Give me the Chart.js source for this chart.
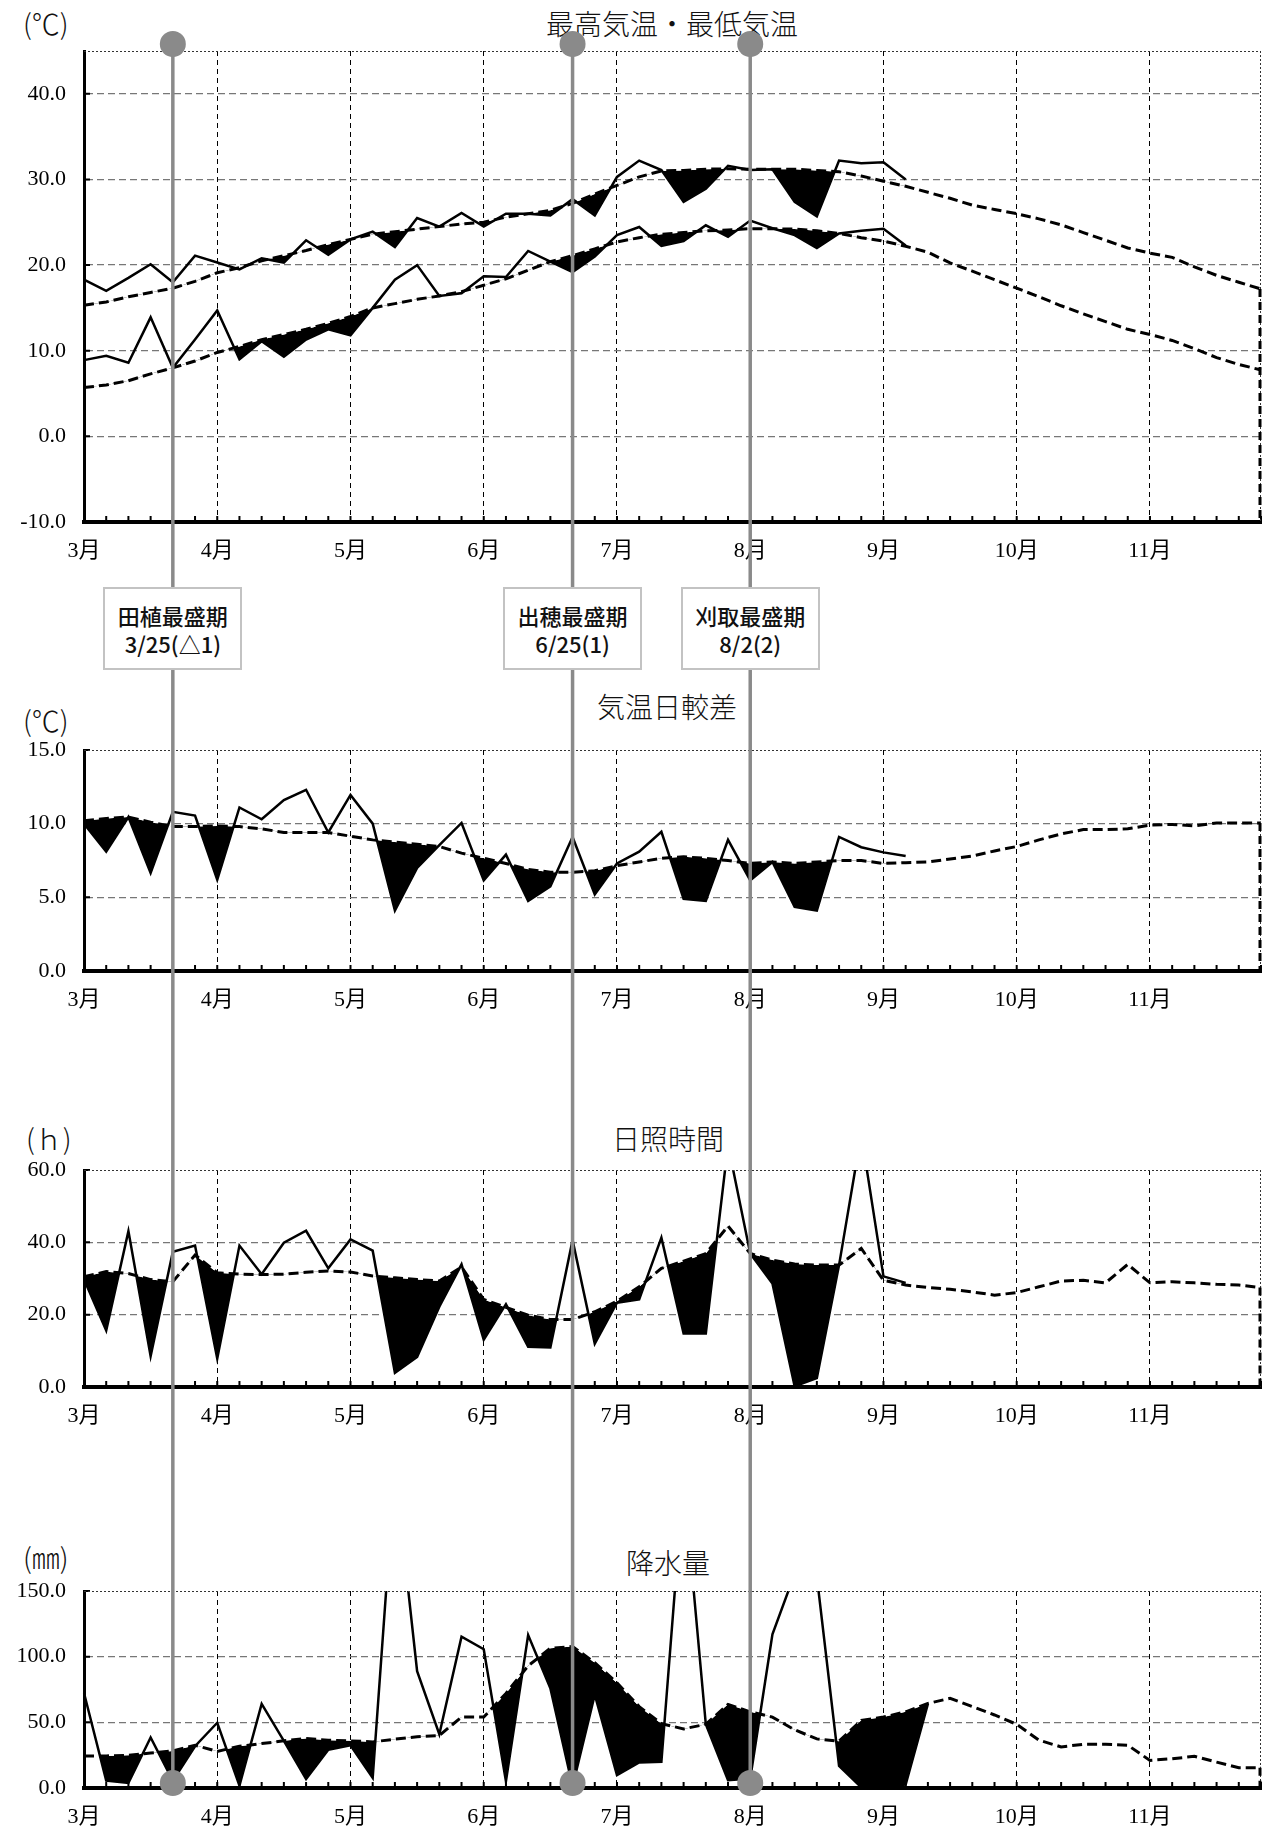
<!DOCTYPE html>
<html lang="ja">
<head>
<meta charset="utf-8">
<title>最高気温・最低気温 / 気温日較差 / 日照時間 / 降水量</title>
<script src="https://cdn.jsdelivr.net/npm/chart.js@4.4.1/dist/chart.umd.min.js"></script>
<style>
  html, body { margin: 0; padding: 0; background: #fff; }
  #page { position: relative; width: 1277px; height: 1832px; overflow: hidden; }
  #page canvas { position: absolute; left: 0; z-index: 1; }
  .txt {
    position: absolute; z-index: 0; white-space: nowrap; color: #111;
    font-family: 'Noto Sans CJK JP', sans-serif; font-weight: 300;
    font-size: 28px; line-height: 30px;
  }
  .title { transform: translateX(-50%); }
  .stage {
    position: absolute; z-index: 2; box-sizing: border-box;
    width: 139px; height: 83px; padding-top: 12px;
    border: 2px solid #c3c3c3; background: #fff; text-align: center;
    font-family: 'Noto Sans CJK JP', sans-serif; font-weight: 500;
    font-size: 22px; line-height: 28px; color: #111;
  }
</style>
</head>
<body>
<div id="page"></div>
<script>
// 半旬 (5-day periods): 3月1半旬 .. 11月6半旬
const months = ['3月', '4月', '5月', '6月', '7月', '8月', '9月', '10月', '11月'];
const periodsPerMonth = 6;

// 最高気温 / 最低気温 (℃): this year (to 9月2半旬) and normal year
const maxTempActual = [18.3, 17.0, 18.5, 20.1, 18.0, 21.1, 20.3, 19.5, 20.8, 20.3,
  22.9, 21.2, 23.0, 23.9, 22.1, 25.5, 24.5, 26.1, 24.5, 26.0,
  26.0, 25.8, 27.7, 25.8, 30.3, 32.2, 31.1, 27.4, 28.9, 31.6,
  31.1, 31.2, 27.4, 25.7, 32.2, 31.9, 32.0, 30.0];
const maxTempNormal = [15.3, 15.7, 16.3, 16.8, 17.3, 18.1, 19.1, 19.7, 20.5, 21.1,
  21.7, 22.4, 23.0, 23.6, 23.9, 24.2, 24.5, 24.8, 25.0, 25.6,
  26.0, 26.4, 27.2, 28.3, 29.3, 30.3, 31.0, 31.05, 31.2, 31.25,
  31.2, 31.2, 31.2, 31.05, 30.9, 30.4, 29.8, 29.2, 28.5, 27.8,
  27.0, 26.5, 26.0, 25.4, 24.7, 23.8, 22.9, 22.0, 21.4, 20.9,
  19.8, 18.8, 18.0, 17.2];
const minTempActual = [8.9, 9.4, 8.6, 13.9, 8.0, 11.3, 14.7, 9.0, 11.1, 9.3,
  11.3, 12.5, 11.8, 15.0, 18.3, 20.0, 16.4, 16.7, 18.7, 18.6,
  21.65, 20.4, 19.2, 21.0, 23.5, 24.45, 22.25, 22.8, 24.65, 23.3,
  25.2, 24.3, 23.5, 22.0, 23.7, 24.0, 24.25, 22.3];
const minTempNormal = [5.7, 6.0, 6.5, 7.3, 8.0, 8.8, 9.8, 10.5, 11.3, 11.9,
  12.5, 13.2, 14.0, 15.0, 15.5, 16.0, 16.4, 16.9, 17.65, 18.4,
  19.4, 20.4, 21.1, 21.9, 22.7, 23.2, 23.6, 23.8, 24.0, 24.1,
  24.25, 24.25, 24.2, 24.0, 23.7, 23.2, 22.8, 22.2, 21.5, 20.25,
  19.3, 18.3, 17.3, 16.3, 15.25, 14.3, 13.4, 12.5, 11.9, 11.2,
  10.25, 9.2, 8.4, 7.75];

// 気温日較差 (℃)
const rangeActual = [10.0, 8.1, 10.45, 6.65, 10.8, 10.55, 6.2, 11.1, 10.3, 11.6,
  12.3, 9.4, 11.95, 10.0, 4.1, 7.0, 8.55, 10.05, 6.15, 7.9,
  4.75, 5.75, 9.1, 5.2, 7.3, 8.1, 9.45, 4.9, 4.75, 8.9,
  6.15, 7.4, 4.35, 4.1, 9.1, 8.4, 8.05, 7.8];
const rangeNormal = [10.2, 10.35, 10.45, 10.1, 9.8, 9.8, 9.85, 9.8, 9.65, 9.4,
  9.4, 9.4, 9.15, 8.9, 8.75, 8.6, 8.45, 8.0, 7.65, 7.3,
  6.9, 6.7, 6.7, 6.8, 7.15, 7.4, 7.65, 7.75, 7.65, 7.5,
  7.3, 7.4, 7.3, 7.4, 7.5, 7.5, 7.3, 7.35, 7.4, 7.6,
  7.8, 8.15, 8.45, 8.9, 9.3, 9.6, 9.6, 9.65, 9.9, 9.95,
  9.85, 10.05, 10.05, 10.05];

// 日照時間 (h)
const sunActual = [29.8, 15.6, 43.1, 8.5, 37.4, 39.1, 7.9, 39.1, 31.2, 39.9,
  43.2, 32.8, 40.8, 37.7, 3.9, 8.3, 22.2, 33.9, 13.1, 22.9,
  11.1, 10.9, 40.6, 12.0, 23.3, 24.2, 41.3, 14.8, 14.8, 67,
  36.9, 28.6, 0.2, 2.5, 33.7, 70, 30.6, 28.8];
const sunNormal = [30.5, 31.9, 31.4, 29.7, 29.1, 36.5, 31.6, 31.2, 31.1, 31.2,
  31.7, 32.1, 31.8, 30.7, 30.2, 29.7, 29.3, 33.2, 24.2, 22.0,
  19.85, 18.65, 18.65, 20.8, 23.7, 27.7, 32.8, 34.8, 36.9, 44.5,
  36.9, 35.1, 34.0, 33.7, 33.7, 38.3, 29.5, 28.2, 27.5, 27.0,
  26.3, 25.4, 26.1, 27.7, 29.3, 29.5, 28.8, 33.9, 28.8, 29.1,
  28.8, 28.4, 28.2, 27.5];

// 降水量 (mm)
const rainActual = [72.3, 5.6, 3.8, 38.5, 5.6, 31.8, 49.7, 1.8, 64.1, 35.9,
  6.9, 29.2, 32.6, 7.7, 243, 89, 41, 115.2, 105.7, 5.2,
  116.5, 76, 1.3, 71, 9.8, 19.5, 20, 235, 48.5, 5.9,
  7.2, 117, 163, 161, 16.8, 0.5, 1.3, 2.6, 64];
const rainNormal = [24.4, 24.4, 24.9, 26.7, 28.2, 32.6, 27.9, 31.8, 33.8, 35.9,
  37.7, 36.4, 35.9, 35.1, 37.2, 39.0, 40, 54, 54, 72,
  93, 106.4, 107.7, 95.4, 80, 62, 49, 45, 48.5, 63.7,
  58, 54, 44.3, 37.4, 35.6, 51.5, 54, 58, 64.4, 68.3,
  62, 55.6, 48.5, 36.4, 31.3, 33.3, 33.3, 32.6, 21, 22.3,
  24.1, 19.7, 15.4, 15.4];

// growth stages: name, date text, 半旬 index
const stageNames = ['田植最盛期', '出穂最盛期', '刈取最盛期'];
const stageDates = ['3/25(△1)', '6/25(1)', '8/2(2)'];
const stagePeriod = [4, 22, 30];

const periodLabels = months.flatMap((m) =>
  Array.from({ length: periodsPerMonth }, (_, k) => `${m}${k + 1}半旬`));

const STAGE_GRAY = '#8a8a8a';
const TICK_FONT = { family: "'Liberation Serif', 'Noto Sans CJK JP', serif", size: 22 };

// layout of the four stacked panels (page pixels)
const panels = [
  {
    top: 0, height: 680, padTop: 51, padBottom: 114, min: -10, max: 45, step: 10,
    unit: '(℃)', unitAt: [23, 23], title: '最高気温・最低気温', titleAt: [672, 23],
    series: [[maxTempActual, maxTempNormal], [minTempActual, minTempNormal]],
    markerTop: true,
  },
  {
    top: 680, height: 360, padTop: 70, padBottom: 25, min: 0, max: 15, step: 5,
    unit: '(℃)', unitAt: [23, 720], title: '気温日較差', titleAt: [667, 706],
    series: [[rangeActual, rangeNormal]],
  },
  {
    top: 1040, height: 420, padTop: 130, padBottom: 29, min: 0, max: 60, step: 20,
    unit: '(ｈ)', unitAt: [26, 1138], title: '日照時間', titleAt: [668, 1138],
    series: [[sunActual, sunNormal]],
  },
  {
    top: 1460, height: 372, padTop: 131, padBottom: 0, min: 0, max: 150, step: 50,
    unit: '(㎜)', unitAt: [23, 1557], title: '降水量', titleAt: [668, 1562],
    series: [[rainActual, rainNormal]],
    markerBottom: true,
  },
];

/**
 * Solid line for this year, dashed for the normal year; the gap is filled
 * black where this year falls below normal.
 */
function buildDatasets(series) {
  const datasets = [];
  series.forEach(([actual, normal]) => {
    const normalIndex = datasets.length + 1;
    datasets.push({
      data: actual,
      borderColor: '#000',
      borderWidth: 2.5,
      pointRadius: 0,
      tension: 0,
      fill: { target: normalIndex, above: 'rgba(0,0,0,0)', below: '#000' },
    });
    datasets.push({
      data: normal,
      borderColor: '#000',
      borderWidth: 3,
      borderDash: [10, 5],
      pointRadius: 0,
      tension: 0,
      fill: false,
    });
  });
  return datasets;
}

/**
 * Frame details, per-半旬 ticks and the gray growth-stage markers.
 */
function makeDecor(panel) {
  return {
    id: 'decor',
    afterDraw(chart) {
      const { ctx, chartArea: area } = chart;
      const x = chart.scales.x;
      const y = chart.scales.y;
      ctx.save();

      // short ticks on both axes, pointing into the plot
      ctx.strokeStyle = '#000';
      ctx.lineWidth = 2;
      ctx.beginPath();
      for (let i = 0; i < periodLabels.length; i++) {
        const px = x.getPixelForValue(i);
        ctx.moveTo(px, area.bottom);
        ctx.lineTo(px, area.bottom - 6);
      }
      y.ticks.forEach((t) => {
        if (t.value % panel.step !== 0) return;
        const py = y.getPixelForValue(t.value);
        ctx.moveTo(area.left, py);
        ctx.lineTo(area.left + 6, py);
      });
      ctx.stroke();

      // dotted top and right frame
      ctx.lineWidth = 1;
      ctx.setLineDash([2, 2]);
      ctx.strokeStyle = '#333';
      ctx.beginPath();
      ctx.moveTo(area.left, area.top + 0.5);
      ctx.lineTo(area.right, area.top + 0.5);
      ctx.moveTo(area.right - 0.5, area.top);
      ctx.lineTo(area.right - 0.5, area.bottom);
      ctx.stroke();

      // the normal-year line drops to the axis at the right edge
      const lastY = Math.min(...panel.series.map(([, normal]) =>
        y.getPixelForValue(normal[normal.length - 1])));
      ctx.setLineDash([8, 5]);
      ctx.lineWidth = 3;
      ctx.strokeStyle = '#000';
      ctx.beginPath();
      ctx.moveTo(area.right - 1, lastY);
      ctx.lineTo(area.right - 1, area.bottom);
      ctx.stroke();

      // growth-stage lines run through every panel
      ctx.setLineDash([]);
      ctx.strokeStyle = STAGE_GRAY;
      ctx.fillStyle = STAGE_GRAY;
      ctx.lineWidth = 3.5;
      const yTop = panel.markerTop ? area.top - 7 : 0;
      const yBottom = panel.markerBottom ? area.bottom - 5 : chart.height;
      stagePeriod.forEach((p) => {
        const px = x.getPixelForValue(p);
        ctx.beginPath();
        ctx.moveTo(px, yTop);
        ctx.lineTo(px, yBottom);
        ctx.stroke();
        if (panel.markerTop) {
          ctx.beginPath();
          ctx.arc(px, yTop, 13, 0, Math.PI * 2);
          ctx.fill();
        }
        if (panel.markerBottom) {
          ctx.beginPath();
          ctx.arc(px, yBottom, 13, 0, Math.PI * 2);
          ctx.fill();
        }
      });
      ctx.restore();
    },
  };
}

function addText(page, text, cls, left, centerY) {
  const el = document.createElement('div');
  el.className = cls;
  el.textContent = text;
  el.style.left = `${left}px`;
  el.style.top = `${centerY - 15}px`;
  page.appendChild(el);
}

const page = document.getElementById('page');
const charts = panels.map((panel) => {
  addText(page, panel.unit, 'txt', panel.unitAt[0], panel.unitAt[1]);
  addText(page, panel.title, 'txt title', panel.titleAt[0], panel.titleAt[1]);

  const canvas = document.createElement('canvas');
  canvas.width = 1277;
  canvas.height = panel.height;
  canvas.style.top = `${panel.top}px`;
  page.appendChild(canvas);

  return new Chart(canvas.getContext('2d'), {
    type: 'line',
    data: { labels: periodLabels, datasets: buildDatasets(panel.series) },
    options: {
      responsive: false,
      animation: false,
      events: [],
      layout: { padding: { top: panel.padTop, bottom: panel.padBottom, left: 0, right: 3 } },
      plugins: { legend: { display: false }, tooltip: { enabled: false } },
      scales: {
        x: {
          ticks: {
            autoSkip: false,
            maxRotation: 0,
            minRotation: 0,
            padding: 16,
            color: '#000',
            font: TICK_FONT,
            callback: (value, index) =>
              (index % periodsPerMonth === 0 ? months[index / periodsPerMonth] : ''),
          },
          grid: {
            drawTicks: false,
            lineWidth: 1,
            color: (c) => (c.index > 0 && c.index % periodsPerMonth === 0
              && c.index < periodLabels.length - 1 ? '#000' : 'rgba(0,0,0,0)'),
          },
          border: { color: '#000', width: 4, dash: [5, 4] },
          afterFit: (scale) => { scale.height = 44; },
        },
        y: {
          min: panel.min,
          max: panel.max,
          ticks: {
            stepSize: panel.step,
            padding: 18,
            color: '#000',
            font: TICK_FONT,
            callback: (v) => (v % panel.step === 0 ? v.toFixed(1) : ''),
          },
          grid: {
            drawTicks: false,
            lineWidth: 1.3,
            color: (c) => (c.tick && (c.tick.value === panel.min || c.tick.value === panel.max)
              ? 'rgba(0,0,0,0)' : '#777'),
          },
          border: { color: '#000', width: 3, dash: [7, 4] },
          afterFit: (scale) => { scale.width = 84; },
        },
      },
    },
    plugins: [makeDecor(panel)],
  });
});

// stage boxes sit on the stage lines, between the first two panels
const xTop = charts[0].scales.x;
stageNames.forEach((name, i) => {
  const box = document.createElement('div');
  box.className = 'stage';
  box.style.left = `${xTop.getPixelForValue(stagePeriod[i]) - 69.5}px`;
  box.style.top = '587px';
  box.innerHTML = `${name}<br>${stageDates[i]}`;
  page.appendChild(box);
});
</script>
</body>
</html>
